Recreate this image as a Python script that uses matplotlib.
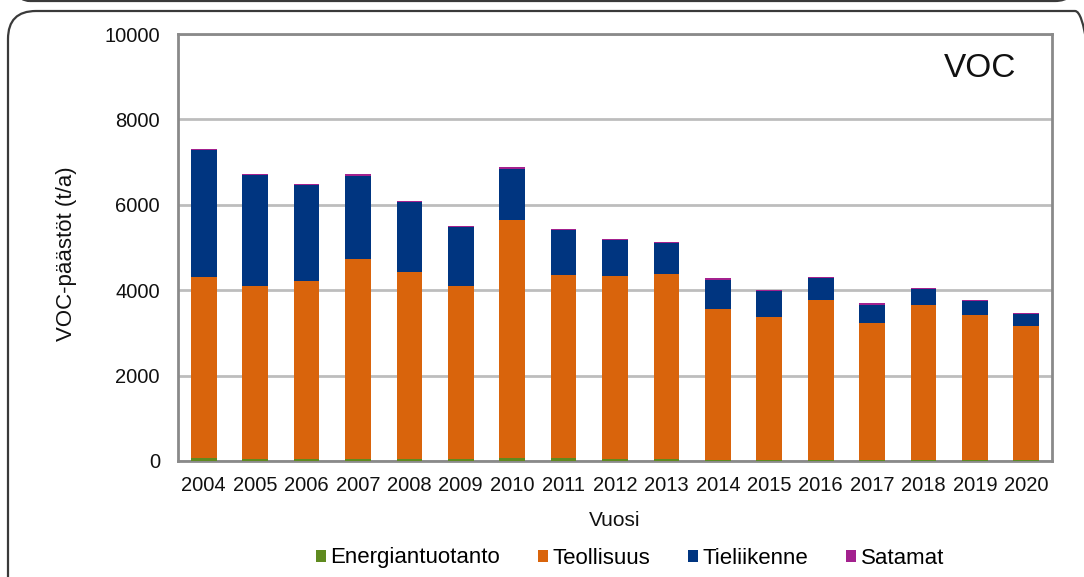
import matplotlib
matplotlib.use("Agg")
import matplotlib.pyplot as plt
from matplotlib.patches import FancyBboxPatch
import numpy as np

plt.rcParams['font.family'] = ['Liberation Sans', 'DejaVu Sans']

# Data (t/a)
years = ['2004', '2005', '2006', '2007', '2008', '2009', '2010', '2011', '2012',
         '2013', '2014', '2015', '2016', '2017', '2018', '2019', '2020']
energiantuotanto = [70, 40, 40, 40, 40, 40, 80, 70, 40, 40, 30, 30, 30, 20, 20, 20, 20]
teollisuus = [4250, 4060, 4180, 4700, 4380, 4065, 5565, 4290, 4290, 4330,
              3530, 3335, 3735, 3205, 3640, 3400, 3140]
tieliikenne = [2970, 2600, 2235, 1940, 1650, 1380, 1205, 1050, 840, 730,
               685, 610, 510, 440, 365, 320, 290]
satamat = [15, 30, 30, 30, 30, 30, 30, 30, 30, 30, 30, 30, 30, 30, 30, 25, 25]

series = [('Energiantuotanto', energiantuotanto, '#5f8a1f'),
          ('Teollisuus', teollisuus, '#d9640c'),
          ('Tieliikenne', tieliikenne, '#003580'),
          ('Satamat', satamat, '#a3218e')]

fig = plt.figure(figsize=(10.84, 5.77), dpi=100)
ax = fig.add_axes([178 / 1084, 1 - 461 / 577, 874 / 1084, 427 / 577])

# rounded outer frames (the one of this chart and the bottom of the one above)
fig.patches.append(FancyBboxPatch((8, -30), 1095, 577 - 11 + 30, transform=None,
                                  boxstyle='round,pad=0,rounding_size=28',
                                  fc='none', ec='#3a3a3a', lw=1.6, zorder=0))
fig.patches.append(FancyBboxPatch((10, 576), 1065, 60, transform=None,
                                  boxstyle='round,pad=0,rounding_size=20',
                                  fc='none', ec='#3a3a3a', lw=1.6, zorder=0))

x = np.arange(len(years))
bottom = np.zeros(len(years))
for name, vals, col in series:
    ax.bar(x, vals, width=0.5, bottom=bottom, color=col, label=name, zorder=3)
    bottom += np.array(vals)

ax.set_xlim(-0.5, len(years) - 0.5)
ax.set_ylim(0, 10000)
ax.set_yticks(range(0, 10001, 2000))
ax.set_xticks(x)
ax.set_xticklabels(years)
ax.tick_params(axis='both', length=0, labelsize=14.5, colors='#111111')
ax.tick_params(axis='y', pad=13)
ax.tick_params(axis='x', pad=11)
ax.grid(axis='y', color='#bdbdbd', lw=2, zorder=1)
for s in ax.spines.values():
    s.set_color('#8a8a8a')
    s.set_linewidth(2)

ax.set_xlabel('Vuosi', fontsize=15, labelpad=11, color='#111111')
ax.set_ylabel('VOC-päästöt (t/a)', fontsize=16, color='#111111')
ax.yaxis.set_label_coords(-0.115, 0.485)

ax.text(0.918, 0.92, 'VOC', transform=ax.transAxes, fontsize=24,
        ha='center', va='center', color='#111111')

ax.legend(loc='center', bbox_to_anchor=(630 / 1084, 1 - 558 / 577),
          bbox_transform=fig.transFigure, ncol=4, frameon=False, fontsize=16,
          handlelength=0.45, handleheight=0.45, handletextpad=0.2,
          columnspacing=1.7)

fig.savefig('out.png', dpi=100)
